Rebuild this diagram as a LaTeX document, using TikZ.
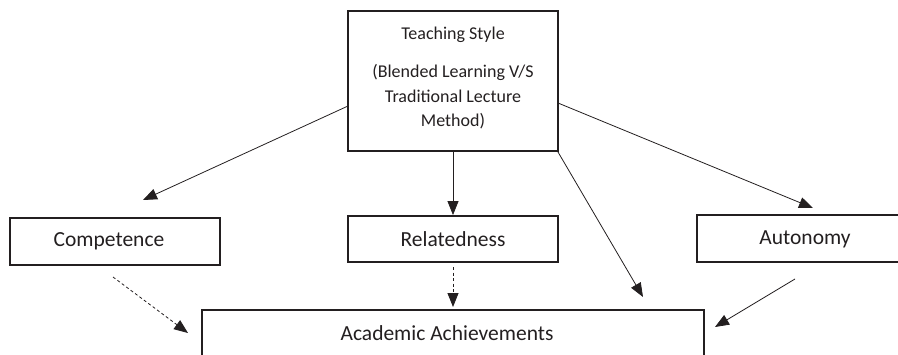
\documentclass[tikz,border=0pt]{standalone}
\usepackage{fontspec}
\setmainfont{Carlito}
\usetikzlibrary{arrows.meta}
\definecolor{ink}{HTML}{231F20}
\begin{document}
\begin{tikzpicture}[x=1pt,y=-1pt,
  box/.style={draw=ink,line width=1.8pt,rectangle,inner sep=0pt},
  lbl/.style={text=ink,font=\fontsize{21.5}{25}\selectfont,inner sep=0pt},
  tlbl/.style={text=ink,font=\fontsize{18}{24.5}\selectfont,inner sep=0pt,align=center},
  conn/.style={draw=ink,line width=0.8pt,-{Triangle[length=14pt,width=11pt]}},
  dconn/.style={conn,dash pattern=on 3pt off 2.5pt}]
\clip (0,0) rectangle (898,354);
% boxes
\node[box,minimum width=210pt,minimum height=140pt] (teach) at (453,81) {};
\node[box,minimum width=210pt,minimum height=47pt] (comp) at (115,241.5) {};
\node[box,minimum width=210pt,minimum height=46pt] (rel) at (453,239) {};
\node[box,minimum width=216pt,minimum height=47pt] (auto) at (805,238.5) {};
\node[box,minimum width=502pt,minimum height=80pt] (acad) at (453,350) {};
% texts
\node[tlbl] (t1) at (453,35) {Teaching Style};
\node[tlbl] (t2) at (453,97) {(Blended Learning V/S\\Traditional Lecture\\Method)};
\node[lbl] (compt) at (109,241) {Competence};
\node[lbl] (relt) at (453,239) {Relatedness};
\node[lbl] (autot) at (805,239.5) {Autonomy};
\node[lbl] (acadt) at (447,333) {Academic Achievements};
% named endpoints
\coordinate (s1) at (348,106);
\coordinate (e1) at (143,200);
\coordinate (s3) at (558,103);
\coordinate (e3) at (813,208);
\coordinate (s4) at (558,152);
\coordinate (e4) at (643,297);
\coordinate (s5) at (113,277);
\coordinate (e5) at (188,333);
\coordinate (s6) at (453,267);
\coordinate (e6) at (453,307);
\coordinate (s7) at (795,279);
\coordinate (e7) at (715,327);
% connectors
\draw[conn] (s1) -- (e1);
\draw[conn] (teach.south) -- (rel.north);
\draw[conn] (s3) -- (e3);
\draw[conn] (s4) -- (e4);
\draw[dconn] (s5) -- (e5);
\draw[dconn] (s6) -- (e6);
\draw[conn] (s7) -- (e7);
\end{tikzpicture}
\end{document}
